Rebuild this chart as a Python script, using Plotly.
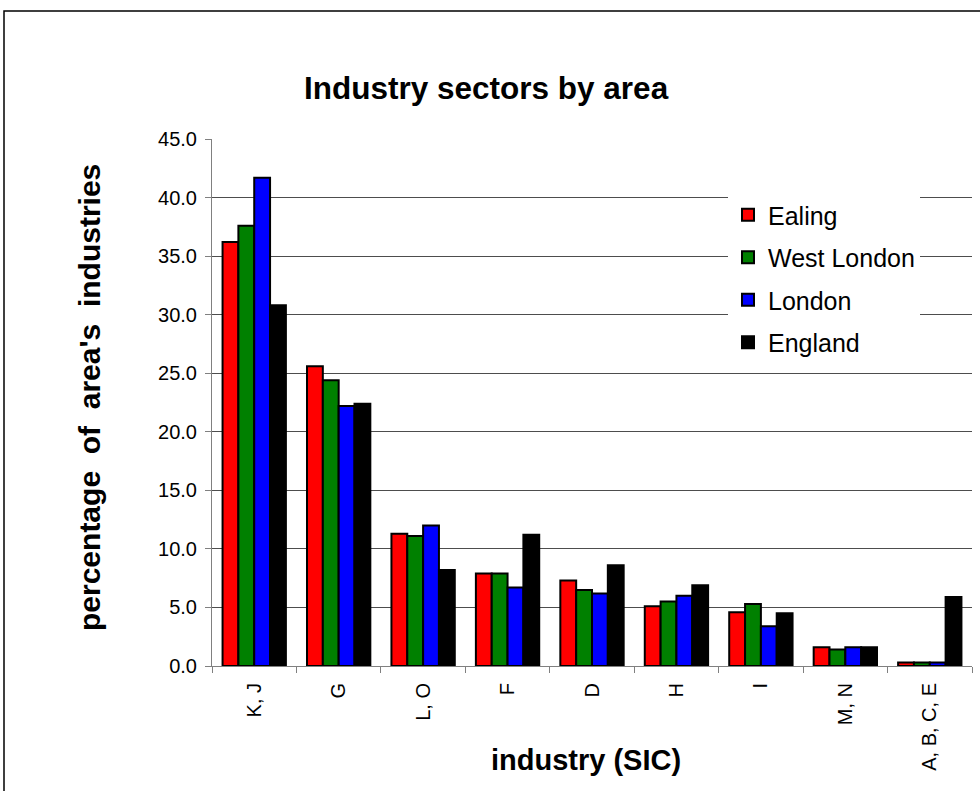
import plotly.graph_objects as go

categories = ["K, J", "G", "L, O", "F", "D", "H", "I", "M, N", "A, B, C, E"]
ealing = [36.2, 25.6, 11.3, 7.9, 7.3, 5.1, 4.6, 1.6, 0.3]
west_london = [37.6, 24.4, 11.1, 7.9, 6.5, 5.5, 5.3, 1.4, 0.3]
london = [41.7, 22.2, 12.0, 6.7, 6.2, 6.0, 3.4, 1.6, 0.3]
england = [30.8, 22.4, 8.2, 11.2, 8.6, 6.9, 4.5, 1.6, 5.9]
series_names = ["Ealing", "West London", "London", "England"]
series_colors = ["#ff0000", "#008000", "#0000ff", "#000000"]
y_ticks = [0, 5, 10, 15, 20, 25, 30, 35, 40, 45]

W, H = 980, 791
L, R, T, B = 212, 8, 139, 125
pw, ph = W - L - R, H - T - B

fig = go.Figure()
for name, vals, col in zip(series_names, [ealing, west_london, london, england], series_colors):
    fig.add_trace(go.Bar(
        x=categories, y=vals, name=name, legendgroup=name,
        marker=dict(color=col, line=dict(color="black", width=2)),
    ))

font = "Liberation Sans"
fig.update_layout(
    width=W, height=H,
    margin=dict(l=L, r=R, t=T, b=B, pad=0),
    paper_bgcolor="white", plot_bgcolor="white",
    barmode="group", bargap=0.25, bargroupgap=0,
    font=dict(family=font, color="black"),
    showlegend=True,
    legend=dict(
        x=(728 - L) / pw, y=(666 - 192) / ph, xanchor="left", yanchor="top",
        bgcolor="white", borderwidth=0,
        font=dict(size=25, family=font),
        tracegroupgap=7, itemwidth=30,
    ),
    xaxis=dict(
        type="category", tickangle=-90, tickfont=dict(size=20),
        showline=True, linecolor="#808080", linewidth=1,
        ticks="outside", tickson="boundaries", ticklen=6, tickcolor="#808080",
        ticklabelstandoff=8,
        showgrid=False,
    ),
    yaxis=dict(
        range=[0, 45], tickvals=y_ticks, tickformat=".1f",
        tickfont=dict(size=20),
        showline=True, linecolor="#808080", linewidth=1,
        ticks="outside", ticklen=6, tickcolor="#808080",
        ticklabelstandoff=4,
        showgrid=True, gridcolor="#4d4d4d", gridwidth=1,
        zeroline=False,
    ),
    shapes=[
        dict(type="rect", xref="paper", yref="paper",
             x0=(4 - L) / pw, x1=1.2, y0=-0.5, y1=(666 - 11) / ph,
             line=dict(color="black", width=1.5), fillcolor="rgba(0,0,0,0)", layer="below"),
    ],
    annotations=[
        dict(text="<b>Industry sectors by area</b>", xref="paper", yref="paper",
             x=(486 - L) / pw, y=(666 - 88) / ph, showarrow=False,
             xanchor="center", yanchor="middle", font=dict(size=31.5, family=font)),
        dict(text="<b>percentage  of  area's  industries</b>", xref="paper", yref="paper",
             x=(89 - L) / pw, y=(666 - 398) / ph, showarrow=False, textangle=-90,
             xanchor="center", yanchor="middle", font=dict(size=30, family=font)),
        dict(text="<b>industry (SIC)</b>", xref="paper", yref="paper",
             x=(586 - L) / pw, y=(666 - 760) / ph, showarrow=False,
             xanchor="center", yanchor="middle", font=dict(size=29, family=font)),
    ],
)

fig.write_html("out.html")
